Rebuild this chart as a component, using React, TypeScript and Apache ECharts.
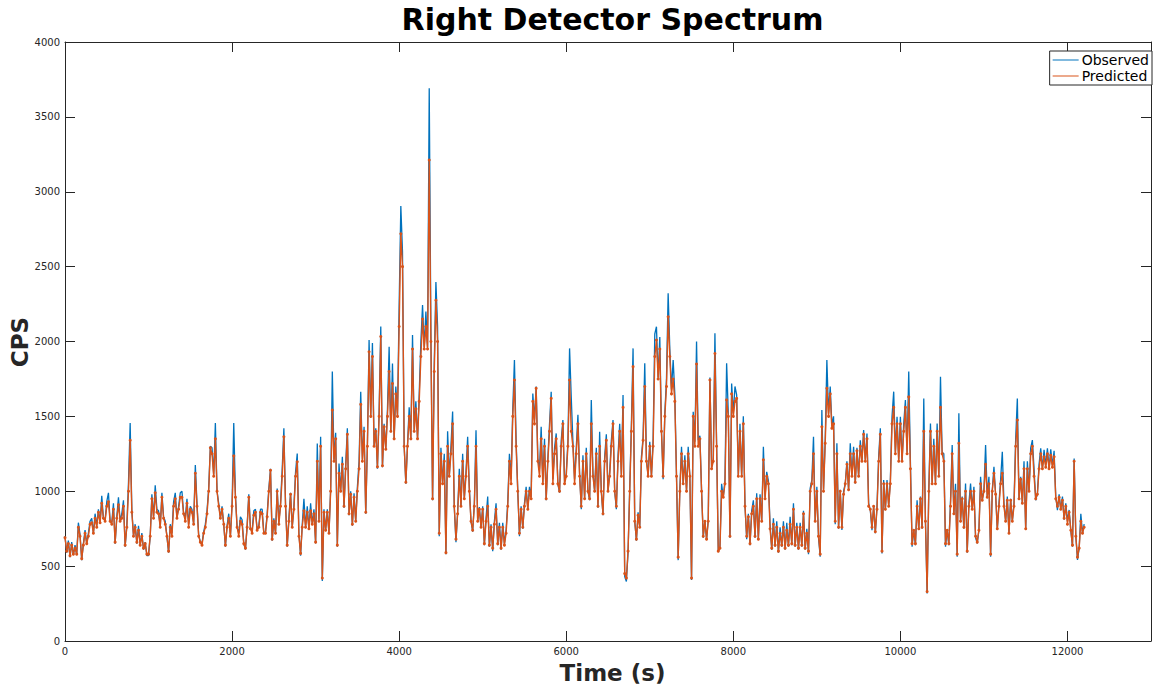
import React, { useEffect, useRef } from "react";
import * as echarts from "echarts";

const TITLE = "Right Detector Spectrum";
const X_NAME = "Time (s)";
const Y_NAME = "CPS";
const SERIES_NAMES = ["Observed", "Predicted"];
const SAMPLE_SECONDS = 20;
const X_MAX = 13000;
const X_TICK = 2000;
const Y_MAX = 4000;
const Y_TICK = 500;

// one value every 20 s
const observed = [
  700, 590, 670, 560, 660, 575, 640, 575, 790, 710, 540, 650, 740, 650, 720, 800, 820, 720, 850, 770,
  880, 790, 970, 820, 810, 930, 990, 800, 790, 920, 650, 830, 960, 800, 850, 940, 630, 770, 1060, 1455,
  880, 700, 780, 650, 770, 640, 720, 610, 660, 570, 570, 700, 980, 830, 1040, 880, 870, 760, 990, 830,
  800, 700, 590, 780, 720, 930, 990, 820, 900, 990, 1000, 850, 820, 950, 780, 900, 880, 780, 1175, 920,
  710, 660, 650, 730, 780, 870, 1020, 1300, 1290, 1110, 1455, 1000, 920, 820, 900, 780, 630, 770, 850, 700,
  920, 1455, 980, 760, 720, 830, 810, 650, 610, 770, 980, 750, 740, 870, 880, 740, 770, 880, 880, 720,
  730, 850, 1020, 1150, 670, 820, 720, 1018, 790, 920, 1150, 1420, 920, 630, 820, 990, 760, 900, 1130, 1252,
  720, 570, 780, 950, 760, 900, 750, 920, 780, 880, 652, 1318, 810, 1364, 400, 880, 740, 880, 716, 1020,
  1800, 1210, 1390, 630, 1185, 1000, 1230, 890, 1180, 1420, 840, 1000, 770, 987, 800, 1030, 1200, 1665, 1210, 1430,
  850, 1320, 2010, 1510, 1990, 1300, 1420, 1150, 1530, 2100, 1160, 1450, 1280, 1550, 1965, 1400, 1853, 1350, 1700, 1510,
  2243, 2905, 2600, 1300, 1050, 1310, 1560, 1350, 2043, 1410, 1600, 1350, 1650, 2000, 2243, 1960, 2200, 1960, 3691, 2050,
  940, 1850, 2397, 2100, 700, 1290, 1050, 1250, 580, 1400, 1100, 1300, 1532, 890, 660, 860, 1150, 900, 1250, 950,
  1130, 1364, 1030, 800, 730, 920, 1408, 800, 895, 760, 900, 640, 820, 964, 630, 780, 600, 800, 920, 640,
  790, 610, 790, 650, 740, 930, 1250, 1080, 1550, 1876, 1340, 1000, 700, 900, 750, 920, 1030, 880, 1030, 960,
  1653, 1480, 1700, 1220, 1150, 1430, 1060, 1350, 940, 1220, 1450, 1665, 1080, 1290, 1386, 1050, 990, 1340, 1475, 1060,
  1120, 1330, 1954, 1630, 1330, 1080, 1290, 1510, 1120, 880, 1240, 950, 1290, 1000, 940, 1609, 1120, 1000, 1290, 890,
  1397, 1000, 840, 1230, 1380, 1000, 1130, 1340, 1476, 1000, 880, 1240, 1450, 1110, 1643, 430, 397, 590, 1020, 1450,
  1954, 800, 670, 860, 760, 1230, 1360, 1854, 1220, 1100, 1330, 1100, 1350, 2050, 2099, 1760, 2030, 1400, 1080, 1520,
  1750, 2322, 1950, 1680, 1876, 1650, 1100, 540, 1020, 1297, 1050, 1240, 1000, 1297, 1100, 407, 1531, 1330, 2000, 1340,
  1370, 1010, 690, 808, 674, 810, 1760, 1160, 1210, 2055, 1320, 596, 630, 1050, 960, 1075, 1854, 1520, 690, 1720,
  1520, 1700, 1643, 1100, 1450, 1100, 1500, 900, 680, 850, 640, 870, 940, 690, 986, 680, 980, 800, 1297, 960,
  1130, 1070, 780, 610, 820, 630, 800, 590, 760, 630, 800, 610, 790, 630, 830, 640, 919, 630, 790, 610,
  790, 630, 870, 610, 750, 580, 1020, 1075, 1364, 800, 1030, 690, 563, 1543, 1010, 1340, 1876, 1520, 1700, 1440,
  1500, 780, 1320, 750, 1010, 741, 1000, 1050, 1200, 1010, 1320, 1100, 1297, 1052, 1290, 1100, 1340, 1200, 1408, 1210,
  1386, 920, 874, 740, 900, 720, 900, 1231, 1420, 585, 1075, 874, 1075, 900, 1075, 1500, 1665, 1260, 1498, 1210,
  1498, 1200, 1450, 1609, 1260, 1799, 1200, 630, 741, 640, 940, 741, 964, 750, 1620, 800, 318, 1010, 1452, 1060,
  1350, 1060, 1452, 1100, 1765, 1260, 1250, 630, 741, 640, 940, 1308, 850, 1050, 563, 1520, 800, 964, 750, 1052,
  590, 920, 1052, 880, 1030, 690, 652, 741, 1097, 940, 1008, 1308, 960, 1097, 563, 1010, 1164, 980, 741, 920,
  1080, 1264, 920, 800, 964, 720, 950, 800, 920, 1350, 1620, 950, 1097, 920, 1200, 741, 1200, 1000, 1290, 1342,
  1150, 940, 984, 1180, 1286, 1150, 1276, 1170, 1286, 1150, 1280, 1170, 1270, 964, 874, 980, 880, 964, 810, 920,
  800, 875, 740, 630, 1219, 700, 541, 620, 850, 720, 780,
];

const predicted = [
  690, 600, 650, 570, 640, 580, 620, 580, 760, 700, 550, 640, 720, 650, 700, 780, 790, 720, 820, 760,
  860, 790, 920, 820, 800, 900, 930, 800, 780, 880, 660, 820, 910, 800, 820, 900, 640, 760, 1000, 1340,
  860, 700, 760, 660, 740, 640, 700, 620, 650, 580, 580, 700, 950, 820, 990, 860, 850, 760, 960, 820,
  780, 700, 600, 760, 700, 900, 950, 820, 880, 960, 960, 850, 800, 920, 760, 880, 860, 780, 1120, 900,
  700, 660, 640, 720, 760, 850, 1000, 1290, 1250, 1100, 1350, 1000, 900, 820, 880, 780, 640, 760, 820, 700,
  900, 1236, 960, 760, 700, 800, 780, 650, 620, 760, 960, 750, 720, 840, 860, 740, 760, 860, 850, 720,
  720, 830, 1000, 1140, 680, 800, 720, 1000, 780, 900, 1100, 1364, 900, 640, 800, 980, 760, 880, 1100, 1197,
  700, 585, 760, 870, 760, 860, 750, 870, 780, 850, 660, 1200, 800, 1300, 420, 860, 740, 860, 720, 1000,
  1542, 1200, 1350, 640, 1120, 1000, 1180, 900, 1150, 1380, 850, 980, 780, 960, 800, 1000, 1150, 1580, 1200, 1400,
  860, 1300, 1932, 1500, 1900, 1300, 1400, 1163, 1500, 2033, 1170, 1430, 1280, 1500, 1800, 1400, 1720, 1350, 1650, 1500,
  2100, 2720, 2500, 1300, 1060, 1300, 1500, 1350, 1950, 1400, 1550, 1350, 1600, 1900, 2150, 1950, 2100, 1950, 3212, 2000,
  950, 1800, 2275, 2000, 720, 1250, 1050, 1200, 590, 1300, 1100, 1250, 1450, 900, 680, 850, 1100, 900, 1200, 950,
  1100, 1300, 1000, 800, 740, 900, 1300, 800, 880, 760, 880, 650, 800, 900, 640, 760, 620, 780, 880, 650,
  760, 620, 760, 640, 720, 900, 1200, 1050, 1500, 1743, 1300, 1000, 720, 880, 760, 900, 1000, 880, 1000, 950,
  1600, 1450, 1687, 1200, 1100, 1350, 1050, 1300, 950, 1200, 1400, 1620, 1050, 1250, 1350, 1050, 1000, 1300, 1450, 1050,
  1100, 1300, 1743, 1400, 1300, 1050, 1250, 1450, 1100, 900, 1200, 950, 1250, 1000, 950, 1450, 1100, 1000, 1250, 900,
  1300, 1000, 850, 1200, 1340, 1000, 1100, 1300, 1450, 1000, 900, 1200, 1400, 1100, 1560, 450, 420, 600, 1000, 1400,
  1832, 800, 680, 840, 760, 1200, 1340, 1700, 1200, 1100, 1300, 1100, 1300, 1900, 2010, 1750, 1950, 1400, 1100, 1500,
  1700, 2165, 1900, 1650, 1750, 1600, 1100, 560, 1000, 1250, 1050, 1200, 1000, 1250, 1100, 420, 1500, 1300, 1850, 1300,
  1350, 1000, 700, 800, 680, 800, 1743, 1150, 1200, 1920, 1300, 600, 620, 1000, 960, 1050, 1610, 1500, 700, 1650,
  1500, 1600, 1620, 1100, 1400, 1100, 1450, 900, 700, 830, 650, 850, 900, 700, 950, 680, 950, 800, 1210, 950,
  1100, 1050, 750, 620, 780, 640, 760, 600, 720, 640, 760, 620, 740, 640, 780, 650, 880, 640, 760, 620,
  760, 640, 850, 620, 720, 600, 1000, 1050, 1250, 800, 1000, 700, 580, 1430, 1000, 1320, 1687, 1500, 1650, 1420,
  1450, 800, 1250, 760, 1000, 760, 980, 1050, 1180, 1010, 1250, 1100, 1250, 1060, 1270, 1100, 1300, 1200, 1380, 1200,
  1350, 900, 880, 760, 900, 730, 880, 1200, 1380, 600, 1050, 880, 1050, 900, 1050, 1450, 1560, 1250, 1450, 1200,
  1450, 1200, 1400, 1560, 1250, 1630, 1150, 650, 740, 650, 900, 750, 950, 760, 1400, 800, 330, 1000, 1400, 1050,
  1300, 1050, 1400, 1100, 1560, 1250, 1200, 650, 740, 650, 900, 1250, 850, 1000, 580, 1320, 800, 950, 760, 1000,
  600, 900, 1000, 880, 1000, 700, 660, 740, 1050, 940, 1000, 1180, 960, 1050, 580, 1000, 1120, 980, 750, 900,
  1050, 1120, 900, 800, 940, 720, 940, 800, 900, 1300, 1476, 950, 1080, 920, 1150, 750, 1150, 1000, 1250, 1300,
  1100, 950, 980, 1150, 1250, 1150, 1230, 1160, 1250, 1150, 1240, 1160, 1230, 950, 900, 960, 880, 940, 820, 900,
  780, 860, 740, 640, 1200, 700, 560, 620, 800, 720, 760,
];

const FONT = "DejaVu Sans";
const AXIS_COLOR = "#262626";
const BLUE = "#0072BD";
const ORANGE = "#D95319";

export default function App() {
  const ref = useRef<HTMLDivElement>(null);
  useEffect(() => {
    if (!ref.current) return;
    const chart = echarts.init(ref.current, undefined, { renderer: "svg" });
    const obsData = observed.map((v, i) => [i * SAMPLE_SECONDS, v]);
    const preData = predicted.map((v, i) => [i * SAMPLE_SECONDS, v]);
    const gridL = 65, gridT = 42, gridR = -6, gridB = 47;
    const plotCenterX = gridL + (1154 - gridL - gridR) / 2;
    const baseX = {
      type: "value" as const,
      min: 0,
      max: X_MAX,
      interval: X_TICK,
      splitLine: { show: false },
      axisLine: { show: true, onZero: false, lineStyle: { color: AXIS_COLOR, width: 1 } },
      axisTick: { show: true, inside: true, length: 10, lineStyle: { color: AXIS_COLOR } },
    };
    const baseY = {
      type: "value" as const,
      min: 0,
      max: Y_MAX,
      interval: Y_TICK,
      splitLine: { show: false },
      axisLine: { show: true, onZero: false, lineStyle: { color: AXIS_COLOR, width: 1 } },
      axisTick: { show: true, inside: true, length: 10, lineStyle: { color: AXIS_COLOR } },
    };
    chart.setOption({
      animation: false,
      backgroundColor: "#ffffff",
      grid: { left: gridL, top: gridT, right: gridR, bottom: gridB, containLabel: false },
      xAxis: [
        {
          ...baseX,
          position: "bottom",
          axisLabel: {
            show: true,
            margin: 5,
            fontFamily: FONT,
            fontSize: 10,
            color: AXIS_COLOR,
            formatter: (v: number) => (v % X_TICK === 0 ? String(v) : ""),
          },
        },
        { ...baseX, position: "top", axisLabel: { show: false } },
      ],
      yAxis: [
        {
          ...baseY,
          position: "left",
          axisLabel: {
            show: true,
            margin: 5,
            fontFamily: FONT,
            fontSize: 10,
            color: AXIS_COLOR,
            formatter: (v: number) => String(v),
          },
        },
        { ...baseY, position: "right", axisLabel: { show: false } },
      ],
      legend: {
        orient: "vertical",
        right: 2,
        top: 51,
        itemGap: 2,
        itemWidth: 26,
        itemHeight: 1,
        icon: "rect",
        padding: [2, 3, 2, 3],
        borderColor: AXIS_COLOR,
        borderWidth: 1,
        borderRadius: 0,
        backgroundColor: "#ffffff",
        textStyle: { fontFamily: FONT, fontSize: 14, color: "#000000", padding: [0, 0, 0, -2] },
        data: SERIES_NAMES,
      },
      graphic: [
        {
          type: "text",
          x: plotCenterX,
          y: 19,
          style: {
            text: TITLE,
            fontFamily: FONT,
            fontWeight: "bold",
            fontSize: 30,
            fill: "#000000",
            textAlign: "center",
            textVerticalAlign: "middle",
          },
        },
        {
          type: "text",
          x: plotCenterX,
          y: 673,
          style: {
            text: X_NAME,
            fontFamily: FONT,
            fontWeight: "bold",
            fontSize: 23,
            fill: AXIS_COLOR,
            textAlign: "center",
            textVerticalAlign: "middle",
          },
        },
        {
          type: "text",
          x: 20,
          y: 342,
          rotation: Math.PI / 2,
          style: {
            text: Y_NAME,
            fontFamily: FONT,
            fontWeight: "bold",
            fontSize: 23,
            fill: AXIS_COLOR,
            textAlign: "center",
            textVerticalAlign: "middle",
          },
        },
      ],
      series: [
        {
          name: SERIES_NAMES[0],
          type: "line",
          data: obsData,
          showSymbol: false,
          symbol: "none",
          lineStyle: { color: BLUE, width: 1.3 },
          itemStyle: { color: BLUE },
        },
        {
          name: SERIES_NAMES[1],
          type: "line",
          data: preData,
          showSymbol: true,
          symbol: "circle",
          symbolSize: 3,
          lineStyle: { color: ORANGE, width: 1.4 },
          itemStyle: { color: ORANGE },
        },
      ],
    });
    return () => chart.dispose();
  }, []);
  return (
    <div
      ref={ref}
      style={{ position: "fixed", left: 0, top: 0, width: 1154, height: 688, background: "#fff" }}
    />
  );
}
